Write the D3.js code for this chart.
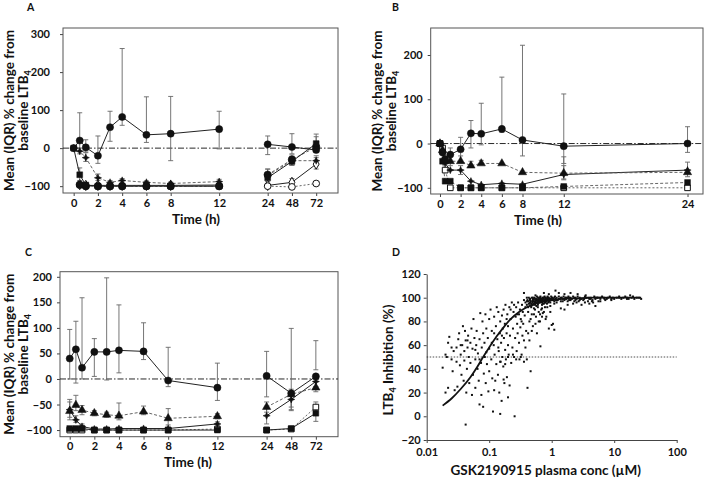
<!DOCTYPE html>
<html><head><meta charset="utf-8">
<script src="https://cdn.jsdelivr.net/npm/d3@7"></script>
<style>
body{margin:0;background:#fff}
svg{display:block}
text{font-family:Lato,"Open Sans",sans-serif;font-weight:bold;fill:#111}
</style>
</head><body>
<svg id="chart" width="707" height="479"></svg>
<script>
// ---------- DATA ----------
const timesAC = [0,0.5,1,2,3,4,6,8,12,24,48,72];
const timesB  = [0,0.25,0.5,1,2,3,4,6,8,12,24];
const xTicksAC = [0,2,4,6,8,12,24,48,72];
const xTicksB  = [0,2,4,6,8,12,24];
const yTicksA = [300,200,100,0,-100];
const yTicksB = [200,100,0,-100];
const yTicksC = [200,150,100,50,0,-50,-100];
const yTicksD = [-20,0,20,40,60,80,100,120];
const xTicksD = [0.01,0.1,1,10,100];
const xTickLabelsD = ["0.01","0.1","1","10","100"];

// Panel A series
const aCircle    = [0,20,2,-20,55,82,35,38,50,10,3,-5];
const aCircleLo  = [null,-8,-10,-40,18,60,15,-33,-2,-17,-15,-10];
const aCircleHi  = [null,93,22,32,97,262,135,136,97,32,38,37];
const aStar      = [0,-8,-25,-78,-90,-85,-90,-93,-88,-72,-33,-33];
const aStarLo    = [null,-15,-35,-85,-95,-92,-95,-97,-93,-82,-45,-45];
const aStarHi    = [null,0,-12,-68,-85,-80,-86,-89,-82,-55,-22,-20];
const aSquare    = [0,-70,-97,-100,-100,-100,-100,-100,-100,-78,-35,12];
const aSquareLo  = [null,-85,-100,null,null,null,null,null,null,-88,-45,-5];
const aSquareHi  = [null,-52,-92,null,null,null,null,null,null,-55,-18,30];
const aDot       = [null,-96,-100,-100,-100,-100,-100,-100,-100,-70,-30,3];
const aOCircle   = [null,-97,-100,-100,-100,-100,-100,-100,-100,-100,-102,-93];
const aODiamond  = [null,-96,-98,-98,-98,-98,-98,-98,-97,-98,-90,-42];
const aODiamondLo= [null,null,null,null,null,null,null,null,null,null,-98,-55];
const aODiamondHi= [null,null,null,null,null,null,null,null,null,null,-80,-25];

// Panel B series
const bCircle    = [0,-20,-35,-25,-13,23,22,33,8,-6,0];
const bCircleLo  = [null,null,-45,-50,-40,-10,-3,25,-28,-45,-20];
const bCircleHi  = [null,null,null,-10,14,52,91,150,222,112,38];
const bTriangle  = [0,-15,-38,-40,-40,-50,-45,-45,-65,-67,-65];
const bTriangleLo= [null,null,null,null,null,null,null,null,null,-80,-75];
const bTriangleHi= [null,null,null,null,-28,-40,-38,null,null,-30,-42];
const bStar      = [0,-20,-45,-60,-60,-85,-93,-90,-92,-70,-60];
const bStarLo    = [null,null,null,null,-70,null,null,null,null,-82,null];
const bStarHi    = [null,null,null,null,-50,null,null,null,null,-50,null];
const bSquare    = [0,-40,-85,-85,-100,-100,-100,-100,-100,-97,-88];
const bOSquare   = [0,-10,-60,-100,-100,-100,-100,-100,-100,-100,-100];

// Panel C series
const cCircle    = [40,58,22,53,53,56,54,-3,-17,6,-28,5];
const cCircleLo  = [0,-8,0,5,-2,12,38,-15,-42,-35,-60,18];
const cCircleHi  = [97,113,159,79,198,145,110,62,31,54,99,75];
const cTriangle  = [-63,-51,-61,-67,-70,-72,-64,-77,-73,-55,-30,-17];
const cTriangleLo= [-80,-62,-70,-72,-75,-80,-70,-90,-78,-65,-55,-25];
const cTriangleHi= [-40,-32,-52,-62,-65,-47,-53,-58,-68,-45,-20,-5];
const cStar      = [-60,-80,-93,-98,-98,-97,-97,-97,-88,-72,-40,-5];
const cStarLo    = [-75,-85,-97,null,null,null,null,null,-92,-88,-62,-15];
const cStarHi    = [-45,-72,-88,null,null,null,null,null,-84,-55,-25,5];
const cSquare    = [-97,-97,-97,-100,-100,-100,-100,-100,-100,-100,-97,-67];
const cSquareLo  = [null,null,null,null,null,null,null,null,null,null,null,-83];
const cSquareHi  = [null,null,null,null,null,null,null,null,null,null,null,-55];
const cOSquare   = [-100,-100,-100,-100,-100,-100,-100,-100,-98,-100,-98,-55];
const cOSquareLo = [null,null,null,null,null,null,null,null,null,null,null,-65];
const cOSquareHi = [null,null,null,null,null,null,null,null,null,null,null,-45];

// Panel D: fitted curve and individual points [conc µM, inhibition %]
const dCurveConc = [0.018,0.025,0.035,0.05,0.065,0.08,0.1,0.13,0.17,0.22,0.3,0.4,0.55,0.75,1,1.5,2.5,5,10,27];
const dCurveInh  = [9,15,23,33,42,50,58,67,75,82,88,92,95,97,98,99,99.5,100,100,100];
const dPoints = [
[0.018,41],[0.02,20],[0.02,52],[0.021,50],[0.022,24],[0.022,62],[0.023,67],[0.025,48],[0.026,38],[0.027,55],
[0.028,22],[0.03,46],[0.03,58],[0.031,25],[0.032,65],[0.033,70],[0.034,43],[0.035,52],[0.036,35],[0.037,60],
[0.038,76],[0.039,30],[0.04,55],[0.04,47],[0.041,72],[0.042,-7],[0.042,64],[0.043,20],[0.044,40],[0.045,58],
[0.046,68],[0.047,50],[0.048,28],[0.05,62],[0.05,45],[0.052,74],[0.053,18],[0.054,57],[0.055,35],[0.056,82],
[0.058,66],[0.06,48],[0.06,24],[0.062,60],[0.063,72],[0.065,40],[0.066,53],[0.068,30],[0.07,10],[0.07,65],
[0.072,87],[0.074,45],[0.075,18],[0.076,58],[0.078,80],[0.08,8],[0.08,70],[0.082,36],[0.084,62],[0.085,50],
[0.087,86],[0.088,28],[0.09,74],[0.092,44],[0.095,66],[0.097,21],[0.1,57],[0.1,82],[0.1,38],[0.105,90],
[0.108,48],[0.11,72],[0.112,32],[0.115,4],[0.118,60],[0.12,84],[0.122,52],[0.125,30],[0.128,76],[0.13,44],
[0.132,92],[0.135,65],[0.138,35],[0.14,88],[0.142,55],[0.145,20],[0.148,70],[0.15,2],[0.15,80],[0.152,46],
[0.155,62],[0.158,13],[0.16,85],[0.162,50],[0.165,74],[0.168,42],[0.17,90],[0.172,66],[0.175,28],[0.178,78],
[0.18,56],[0.182,94],[0.185,48],[0.19,70],[0.192,33],[0.195,86],[0.2,60],[0.2,76],[0.205,52],[0.21,92],
[0.212,26],[0.215,68],[0.22,82],[0.225,45],[0.23,96],[0.235,58],[0.24,74],[0.245,88],[0.25,50],[0.255,0],
[0.26,66],[0.265,84],[0.27,92],[0.275,55],[0.28,78],[0.285,70],[0.29,96],[0.3,62],[0.3,86],[0.305,48],
[0.31,90],[0.315,75],[0.32,82],[0.33,52],[0.335,94],[0.34,68],[0.345,88],[0.35,78],[0.36,98],[0.37,85],
[0.38,92],[0.39,72],[0.4,100],[0.4,48],[0.41,24],[0.42,88],[0.43,95],[0.44,80],[0.45,98],[0.46,38],
[0.47,92],[0.48,86],[0.49,97],[0.5,94],[0.5,76],[0.52,99],[0.54,90],[0.55,96],[0.56,84],[0.58,98],
[0.6,92],[0.6,100],[0.62,88],[0.64,96],[0.65,80],[0.66,59],[0.68,99],[0.7,94],[0.72,87],[0.74,100],
[0.75,97],[0.78,92],[0.8,98],[0.82,84],[0.85,100],[0.88,96],[0.9,74],[0.92,99],[0.95,93],[1.0,100],
[1.0,77],[1.05,98],[1.1,73],[0.38,96],[0.4,94],[0.41,98],[0.42,97],[0.43,100],[0.44,95],[0.45,99],
[0.46,97],[0.47,93],[0.48,100],[0.49,96],[0.5,98],[0.51,95],[0.52,97],[0.53,100],[0.54,94],[0.55,98],
[0.56,99],[0.57,96],[0.58,101],[0.59,97],[0.6,95],[0.61,99],[0.62,98],[0.63,100],[0.64,96],[0.65,98],
[0.66,101],[0.67,97],[0.68,99],[0.7,96],[0.71,100],[0.72,98],[0.74,99],[0.75,95],[0.77,101],[0.78,98],
[0.8,100],[0.82,97],[0.84,99],[0.86,101],[0.88,98],[0.9,100],[0.92,97],[0.95,99],[0.98,101],[1.0,98],
[1.03,100],[1.06,99],[1.1,97],[1.13,101],[1.16,99],[1.2,100],[1.25,98],[1.3,101],[1.35,99],[1.4,97],
[1.45,100],[1.5,99],[1.55,101],[1.6,98],[1.65,100],[1.7,99],[1.8,97],[1.85,101],[1.9,100],[2.0,98],
[2.1,99],[2.2,101],[2.3,100],[2.4,98],[2.5,99],[2.6,101],[2.7,97],[2.8,100],[3.0,99],[3.2,98],
[3.4,101],[3.6,100],[3.8,97],[4.0,99],[4.2,100],[4.5,98],[4.8,101],[5.0,99],[5.3,100],[5.6,97],
[6.0,99],[6.4,101],[6.8,100],[7.2,98],[7.6,99],[8.0,100],[8.5,101],[9.0,99],[9.5,100],[10,99],
[11,100],[12,101],[13,99],[14,100],[15,101],[16,100],[17,99],[18,102],[19,100],[21,99],
[23,100],[25,100],[27,99],[0.36,104],[0.55,102],[0.75,104],[0.9,103],[1.15,106],[1.3,104],[1.6,103],
[2.0,104],[2.6,103],[3.5,102],[1.4,91],[1.6,90],[1.8,94],[2.2,95],[3,94],[3.4,96],[4,95],
[5,93],[2.5,96],[6,97],[1.2,96],[4.6,96],[0.95,88],[1.05,78],[0.7,91],[0.65,86],[0.45,96],
[0.5,99],[0.55,97],[0.6,98],[0.65,99],[0.7,98],[0.75,100],[0.8,96],[0.85,98],[0.9,97],[1.1,100],
[1.2,98],[1.3,99],[1.5,97],[1.7,100],[1.9,98],[2.3,97],[2.8,98],[3.3,99],[3.9,100],[4.4,97],
[5.5,100],[7,99],[9,98],[12,100],[16,99],[20,101],[0.42,92],[0.47,95],[0.52,91],[0.57,93],
[0.33,80],[0.36,64],[0.38,58],[0.42,70],[0.44,64],[0.46,82],[0.48,72],[0.52,86],[0.55,78],[0.58,70],
[0.62,80],[0.68,90],[0.7,84],[0.75,88],[0.8,82],[0.85,92],[0.28,86],[0.25,94],[0.22,90],[0.19,82],
[0.16,68],[0.14,58],[0.12,70],[0.11,62],[0.09,54],[0.07,48],[0.06,56],[0.045,64],[0.035,60],[0.025,58],
[0.15,46],[0.18,44],[0.2,50],[0.24,52],[0.27,48],[0.32,50],[0.36,46],[0.12,22],[0.17,31],[0.2,16],
[0.45,99],[0.5,100],[0.55,99],[0.6,97],[0.65,100],[0.7,99],[0.8,99],[0.9,99],[1.0,99],[1.15,98],
[1.4,100],[1.6,99],[1.8,100],[2.0,100],[2.4,100],[2.9,99],[3.5,100],[4.2,99],[5.0,100],[6.0,100],
[0.4,97],[0.48,94],[0.53,96],[0.6,94],[0.63,97],[0.72,95],[0.78,96],[0.84,95],[0.95,96],[1.1,95]
];

// ---------- DRAW ----------
const svg = d3.select("#chart");
const TICKFONT = 11;

function symbolPath(kind){
  const s = {
    circle:  d3.symbol(d3.symbolCircle, 40)(),
    ocircle: d3.symbol(d3.symbolCircle, 36)(),
    square:  d3.symbol(d3.symbolSquare, 34)(),
    osquare: d3.symbol(d3.symbolSquare, 32)(),
    triangle:d3.symbol(d3.symbolTriangle, 30)(),
    odiamond:d3.symbol(d3.symbolDiamond, 30)(),
    star:    "M0,-3.6L1.1,-1.1L3.6,0L1.1,1.1L0,3.6L-1.1,1.1L-3.6,0L-1.1,-1.1Z",
    dot:     d3.symbol(d3.symbolCircle, 44)()
  };
  return s[kind];
}
const openKinds = new Set(["ocircle","osquare","odiamond"]);

function yLabel(g, x1, x2, cy){
  g.append("text").attr("transform",`translate(${x1},${cy}) rotate(-90)`)
    .attr("text-anchor","middle").attr("font-size",13.5).text("Mean (IQR) % change from");
  const t = g.append("text").attr("transform",`translate(${x2},${cy}) rotate(-90)`)
    .attr("text-anchor","middle").attr("font-size",13.5);
  t.append("tspan").text("baseline LTB");
  t.append("tspan").attr("font-size",9).attr("dy",3).text("4");
}

function timePanel(cfg){
  const g = svg.append("g");
  const xu = cfg.xUnits;
  const xp = d3.scaleLinear().domain(cfg.uDomain).range([cfg.x0, cfg.x1]);
  const x = t => xp(xu(t));
  const y = d3.scaleLinear().domain(cfg.yDomain).range([cfg.y1, cfg.y0]);

  // axes
  const xAxis = d3.axisBottom(d3.scaleLinear().domain([cfg.x0,cfg.x1]).range([cfg.x0,cfg.x1]))
    .tickValues(cfg.xTicks.map(x)).tickFormat((d,i)=>cfg.xTicks[i]).tickSize(3).tickPadding(3).tickSizeOuter(0);
  const xa = g.append("g").attr("transform",`translate(0,${cfg.y1})`).call(xAxis);
  xa.select(".domain").remove();
  xa.selectAll("text").attr("font-size",TICKFONT).attr("font-family","Lato").attr("font-weight","bold").attr("fill","#111");
  xa.selectAll("line").attr("stroke","#444");
  const yAxis = d3.axisLeft(y).tickValues(cfg.yTicks).tickSize(3).tickPadding(cfg.yPad).tickSizeOuter(0);
  const ya = g.append("g").attr("transform",`translate(${cfg.x0},0)`).call(yAxis);
  ya.select(".domain").remove();
  ya.selectAll("text").attr("font-size",TICKFONT).attr("font-family","Lato").attr("font-weight","bold").attr("fill","#111");
  ya.selectAll("line").attr("stroke","#444");

  g.append("rect").attr("x",cfg.x0).attr("y",cfg.y0).attr("width",cfg.x1-cfg.x0).attr("height",cfg.y1-cfg.y0)
    .attr("fill","none").attr("stroke","#555").attr("stroke-width",1);

  // zero reference
  g.append("line").attr("x1",cfg.x0).attr("x2",cfg.x1).attr("y1",y(0)).attr("y2",y(0))
    .attr("stroke","#111").attr("stroke-width",0.9).attr("stroke-dasharray","6,2,1.5,2");

  const times = cfg.times;
  // error bars
  cfg.series.forEach(s=>{
    times.forEach((t,i)=>{
      if(s.v[i]==null) return;
      const lo = s.lo ? s.lo[i] : null, hi = s.hi ? s.hi[i] : null;
      if(lo==null && hi==null) return;
      const a = lo==null ? s.v[i] : lo, b = hi==null ? s.v[i] : hi;
      g.append("line").attr("x1",x(t)).attr("x2",x(t)).attr("y1",y(a)).attr("y2",y(b))
        .attr("stroke","#666").attr("stroke-width",0.9);
      [lo,hi].forEach(e=>{ if(e!=null) g.append("line").attr("x1",x(t)-2.5).attr("x2",x(t)+2.5)
        .attr("y1",y(e)).attr("y2",y(e)).attr("stroke","#666").attr("stroke-width",0.9); });
    });
  });
  // lines
  const line = d3.line().defined(d=>d.v!=null).x(d=>x(d.t)).y(d=>y(d.v));
  cfg.series.forEach(s=>{
    const pts = times.map((t,i)=>({t,v:s.v[i]}));
    const segs = cfg.gapAfter!=null ? [pts.filter(p=>p.t<=cfg.gapAfter), pts.filter(p=>p.t>cfg.gapAfter)] : [pts];
    segs.forEach(seg=>g.append("path").attr("d",line(seg)).attr("fill","none")
      .attr("stroke",s.dash?"#555":"#222").attr("stroke-width",s.dash?0.9:1)
      .attr("stroke-dasharray",s.dash||null));
  });
  // markers
  cfg.series.forEach(s=>{
    times.forEach((t,i)=>{
      if(s.v[i]==null) return;
      g.append("path").attr("d",symbolPath(s.kind)).attr("transform",`translate(${x(t)},${y(s.v[i])})`)
        .attr("fill",openKinds.has(s.kind)?"#fff":"#111").attr("stroke","#111").attr("stroke-width",openKinds.has(s.kind)?1:0.5);
    });
  });

  // labels
  g.append("text").attr("x",cfg.titleX).attr("y",cfg.titleY).attr("text-anchor","middle").attr("font-size",13.5).text("Time (h)");
  yLabel(g, cfg.yl1, cfg.yl2, (cfg.y0+cfg.y1)/2);
  g.append("text").attr("x",cfg.panelX).attr("y",cfg.panelY).attr("font-size",10.5).text(cfg.panel);
}

const breakUnits = () => d3.scaleLinear().domain([0,12,24,48,72]).range([0,12,16,18,20]);

timePanel({
  panel:"A", panelX:27, panelY:11,
  x0:63, x1:338, y0:28, y1:193, uDomain:[-0.88,21.8], xUnits:breakUnits(),
  yDomain:[-118,316], yTicks:yTicksA, yPad:10, xTicks:xTicksAC, times:timesAC, gapAfter:12,
  titleX:196, titleY:224, yl1:14, yl2:28,
  series:[
    {kind:"odiamond", v:aODiamond, lo:aODiamondLo, hi:aODiamondHi},
    {kind:"ocircle", v:aOCircle, dash:"2,2"},
    {kind:"dot", v:aDot, dash:"3,2"},
    {kind:"square", v:aSquare, lo:aSquareLo, hi:aSquareHi},
    {kind:"star", v:aStar, lo:aStarLo, hi:aStarHi, dash:"3,2"},
    {kind:"circle", v:aCircle, lo:aCircleLo, hi:aCircleHi}
  ]
});

timePanel({
  panel:"B", panelX:392, panelY:11,
  x0:430.7, x1:703, y0:28, y1:194, uDomain:[-0.9,25.5], xUnits:d3.scaleLinear(),
  yDomain:[-114,261], yTicks:yTicksB, yPad:5, xTicks:xTicksB, times:timesB, gapAfter:null,
  titleX:538, titleY:225, yl1:382, yl2:396,
  series:[
    {kind:"osquare", v:bOSquare, dash:"2,2"},
    {kind:"square", v:bSquare, dash:"3,2"},
    {kind:"star", v:bStar, lo:bStarLo, hi:bStarHi},
    {kind:"triangle", v:bTriangle, lo:bTriangleLo, hi:bTriangleHi, dash:"3,2"},
    {kind:"circle", v:bCircle, lo:bCircleLo, hi:bCircleHi}
  ]
});

timePanel({
  panel:"C", panelX:25, panelY:256,
  x0:60, x1:338, y0:271.7, y1:436.7, uDomain:[-0.79,21.8], xUnits:breakUnits(),
  yDomain:[-113,210], yTicks:yTicksC, yPad:5, xTicks:xTicksAC, times:timesAC, gapAfter:12,
  titleX:188, titleY:467, yl1:14, yl2:28,
  series:[
    {kind:"osquare", v:cOSquare, lo:cOSquareLo, hi:cOSquareHi, dash:"2,2"},
    {kind:"square", v:cSquare, lo:cSquareLo, hi:cSquareHi},
    {kind:"star", v:cStar, lo:cStarLo, hi:cStarHi},
    {kind:"triangle", v:cTriangle, lo:cTriangleLo, hi:cTriangleHi, dash:"3,2"},
    {kind:"circle", v:cCircle, lo:cCircleLo, hi:cCircleHi}
  ]
});

// Panel D
(function(){
  const g = svg.append("g");
  const x0=426.7, x1=676.7, y0=274, y1=440;
  const x = d3.scaleLog().domain([0.01,100]).range([x0,x1]);
  const y = d3.scaleLinear().domain([-20,120]).range([y1,y0]);
  const xa = g.append("g").attr("transform",`translate(0,${y1})`)
    .call(d3.axisBottom(x).tickValues(xTicksD).tickFormat((d,i)=>xTickLabelsD[i]).tickSize(3).tickPadding(5).tickSizeOuter(0));
  const ya = g.append("g").attr("transform",`translate(${x0},0)`)
    .call(d3.axisLeft(y).tickValues(yTicksD).tickSize(3).tickPadding(3).tickSizeOuter(0));
  [xa,ya].forEach(a=>{
    a.select(".domain").attr("stroke","#444");
    a.selectAll("line").attr("stroke","#444");
    a.selectAll("text").attr("font-size",TICKFONT).attr("font-family","Lato").attr("font-weight","bold").attr("fill","#111");
  });
  g.append("line").attr("x1",x(0.01)).attr("x2",x(100)).attr("y1",y(50)).attr("y2",y(50))
    .attr("stroke","#222").attr("stroke-width",0.8).attr("stroke-dasharray","1.5,1.5");
  g.selectAll("rect.pt").data(dPoints).join("rect").attr("class","pt")
    .attr("x",d=>x(d[0])-1).attr("y",d=>y(d[1])-1).attr("width",2).attr("height",2).attr("fill","#111");
  const curve = dCurveConc.map((c,i)=>[c,dCurveInh[i]]);
  g.append("path").attr("d",d3.line().x(d=>x(d[0])).y(d=>y(d[1])).curve(d3.curveMonotoneX)(curve))
    .attr("fill","none").attr("stroke","#111").attr("stroke-width",1.8);
  g.append("text").attr("x",545.7).attr("y",475).attr("text-anchor","middle").attr("font-size",13.5)
    .text("GSK2190915 plasma conc (µM)");
  const t = g.append("text").attr("transform","translate(393,360) rotate(-90)").attr("text-anchor","middle").attr("font-size",13.5);
  t.append("tspan").text("LTB");
  t.append("tspan").attr("font-size",9).attr("dy",3).text("4");
  t.append("tspan").attr("dy",-3).text(" Inhibition (%)");
  g.append("text").attr("x",392).attr("y",256).attr("font-size",10.5).text("D");
})();
</script>
</body></html>
